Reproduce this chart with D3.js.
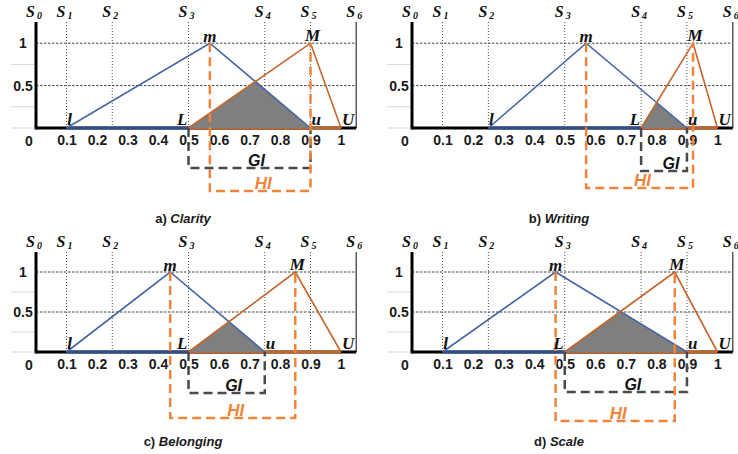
<!DOCTYPE html>
<html>
<head>
<meta charset="utf-8">
<script src="https://cdn.jsdelivr.net/npm/d3@7"></script>
<style>
  body { margin: 0; background: #fff; }
  svg { display: block; }
</style>
</head>
<body>
<svg id="chart" width="738" height="454"></svg>
<script>
// data
var captionTags = ["a)", "b)", "c)", "d)"];
var captionNames = ["Clarity", "Writing", "Belonging", "Scale"];
var lowTri = [[0.1, 0.57, 0.9], [0.25, 0.57, 0.9], [0.1, 0.44, 0.75], [0.1, 0.47, 0.9]];   // l, m, u
var highTri = [[0.5, 0.9, 1.0], [0.75, 0.92, 1.0], [0.5, 0.85, 1.0], [0.5, 0.86, 1.0]];   // L, M, U
var sVals = [0, 0.1, 0.25, 0.5, 0.75, 0.9, 1.05];
var sNames = ["0", "1", "2", "3", "4", "5", "6"];
var xTicks = [0.1, 0.2, 0.3, 0.4, 0.5, 0.6, 0.7, 0.8, 0.9, 1];
var yTicks = [0.5, 1];

// panel placement
var layout = [
  {x0: 36,  y0: 128, top: 22,  unit: 305,   capY: 223, hiY: 191, giY: 168},
  {x0: 412, y0: 128, top: 22,  unit: 305.5, capY: 223, hiY: 188, giY: 171},
  {x0: 36,  y0: 352, top: 252, unit: 305,   capY: 446, hiY: 418, giY: 393},
  {x0: 412, y0: 352, top: 252, unit: 305.5, capY: 446, hiY: 421, giY: 392}
];

var blue = "#4466a3", brown = "#c4662c", hiCol = "#f0843a", giCol = "#4a4a4a";
var sans = "Liberation Sans, Arial, sans-serif", serif = "Liberation Serif, Times New Roman, serif";
var svg = d3.select("#chart");

layout.forEach(function(p, i) {
  var x = d3.scaleLinear().domain([0, 1.05]).range([p.x0, p.x0 + p.unit * 1.05]);
  var y = d3.scaleLinear().domain([0, 1.25]).range([p.y0, p.top]);
  var g = svg.append("g");
  var lo = lowTri[i], hi = highTri[i];

  // light stubs left of the axis
  g.selectAll(".stub").data([0, 0.25, 0.75]).enter().append("line")
      .attr("x1", p.x0 - 25).attr("x2", p.x0)
      .attr("y1", function(d) { return y(d); }).attr("y2", function(d) { return y(d); })
      .attr("stroke", "#d8d8d8").attr("stroke-width", 1);

  // dotted grid
  g.selectAll(".vg").data(sVals.slice(1, 6)).enter().append("line")
      .attr("x1", function(d) { return x(d); }).attr("x2", function(d) { return x(d); })
      .attr("y1", y(1.25)).attr("y2", y(0))
      .attr("stroke", "#555").attr("stroke-width", 1).attr("stroke-dasharray", "1,2");
  g.selectAll(".hg").data(yTicks).enter().append("line")
      .attr("x1", p.x0).attr("x2", x(1.05))
      .attr("y1", function(d) { return y(d); }).attr("y2", function(d) { return y(d); })
      .attr("stroke", "#444").attr("stroke-width", 1).attr("stroke-dasharray", "2.5,1.5");
  g.append("line")
      .attr("x1", x(1.05)).attr("x2", x(1.05)).attr("y1", y(1.25)).attr("y2", y(0))
      .attr("stroke", "#5a5a5a").attr("stroke-width", 1.5);

  // axes lines
  g.append("line").attr("x1", p.x0).attr("x2", p.x0).attr("y1", y(1.25)).attr("y2", y(0) + 1.5)
      .attr("stroke", "#000").attr("stroke-width", 3);
  g.append("line").attr("x1", p.x0).attr("x2", x(1.05)).attr("y1", y(0)).attr("y2", y(0))
      .attr("stroke", "#000").attr("stroke-width", 3);

  // tick labels through d3 axes
  var xa = g.append("g").attr("transform", "translate(0," + (p.y0 + 4) + ")")
      .call(d3.axisBottom(x).tickValues(xTicks).tickSize(0).tickFormat(d3.format("")));
  var ya = g.append("g").attr("transform", "translate(" + (p.x0 - 4) + ",0)")
      .call(d3.axisLeft(y).tickValues(yTicks).tickSize(0).tickFormat(d3.format("")));
  [xa, ya].forEach(function(a) {
    a.select(".domain").remove();
    a.selectAll("text").attr("font-family", sans)
      .attr("font-size", 14).attr("font-weight", "bold").attr("fill", "#1a1a1a");
  });
  ya.selectAll("text").attr("text-anchor", "middle").attr("x", -9);
  g.append("text").attr("x", p.x0 - 7).attr("y", p.y0 + 18).attr("text-anchor", "middle")
      .attr("font-family", sans).attr("font-size", 14)
      .attr("font-weight", "bold").attr("fill", "#1a1a1a").text("0");

  // S labels
  var st = g.selectAll(".sl").data(sVals).enter().append("text")
      .attr("x", function(d) { return x(d) - 2; }).attr("y", p.top - 5)
      .attr("text-anchor", "middle")
      .attr("font-family", serif)
      .attr("font-weight", "bold").attr("font-style", "italic").attr("font-size", 16).attr("fill", "#111");
  st.append("tspan").text("S");
  st.append("tspan").attr("dx", 2).attr("dy", 2).attr("font-size", 10)
      .text(function(d, j) { return sNames[j]; });

  // bases along the baseline
  g.append("line").attr("x1", x(lo[0])).attr("x2", x(lo[2])).attr("y1", y(0)).attr("y2", y(0))
      .attr("stroke", "#2f4f8a").attr("stroke-width", 3);
  g.append("line").attr("x1", x(hi[0])).attr("x2", x(hi[2])).attr("y1", y(0)).attr("y2", y(0))
      .attr("stroke", brown).attr("stroke-width", 3);

  // overlap area
  var ix = (lo[2] * (hi[1] - hi[0]) + hi[0] * (lo[2] - lo[1])) / ((hi[1] - hi[0]) + (lo[2] - lo[1]));
  var iy = (ix - hi[0]) / (hi[1] - hi[0]);
  var line = d3.line().x(function(d) { return x(d[0]); }).y(function(d) { return y(d[1]); });
  g.append("path").attr("d", line([[hi[0], 0], [ix, iy], [lo[2], 0]]) + "Z")
      .attr("fill", "#7f7f7f").attr("stroke", "none");

  // triangles
  g.append("path").attr("d", line([[lo[0], 0], [lo[1], 1], [lo[2], 0]]))
      .attr("fill", "none").attr("stroke", blue).attr("stroke-width", 1.6);
  g.append("path").attr("d", line([[hi[0], 0], [hi[1], 1], [hi[2], 0]]))
      .attr("fill", "none").attr("stroke", brown).attr("stroke-width", 1.6);

  // GI and HI brackets
  g.append("path")
      .attr("d", "M" + x(hi[0]) + "," + y(0) + "V" + p.giY + "H" + x(lo[2]) + "V" + y(0))
      .attr("fill", "none").attr("stroke", giCol).attr("stroke-width", 2.5).attr("stroke-dasharray", "9,5");
  g.append("path")
      .attr("d", "M" + x(lo[1]) + "," + y(1) + "V" + p.hiY + "H" + x(hi[1]) + "V" + y(1))
      .attr("fill", "none").attr("stroke", hiCol).attr("stroke-width", 2.5).attr("stroke-dasharray", "9,5");

  g.append("text").attr("x", (x(hi[0]) + x(lo[2])) / 2 + 7).attr("y", p.giY - 2)
      .attr("text-anchor", "middle").attr("font-family", sans)
      .attr("font-size", 16).attr("font-weight", "bold").attr("font-style", "italic")
      .attr("fill", "#111").text("GI");
  g.append("text").attr("x", (x(lo[1]) + x(hi[1])) / 2 + 3).attr("y", p.hiY - 2)
      .attr("text-anchor", "middle").attr("font-family", sans)
      .attr("font-size", 17).attr("font-weight", "bold").attr("font-style", "italic")
      .attr("fill", hiCol).text("HI");

  // point letters
  var pts = [
    {t: "l", v: lo[0], yv: 0, a: "middle", dx: 3, dy: -3},
    {t: "m", v: lo[1], yv: 1, a: "middle", dx: 0, dy: -1},
    {t: "u", v: lo[2], yv: 0, a: "start", dx: 1, dy: -3},
    {t: "L", v: hi[0], yv: 0, a: "end", dx: -1, dy: -3},
    {t: "M", v: hi[1], yv: 1, a: "middle", dx: 2, dy: -2},
    {t: "U", v: hi[2], yv: 0, a: "start", dx: 1, dy: -3}
  ];
  g.selectAll(".pt").data(pts).enter().append("text")
      .attr("x", function(d) { return x(d.v) + d.dx; })
      .attr("y", function(d) { return y(d.yv) + d.dy; })
      .attr("text-anchor", function(d) { return d.a; })
      .attr("font-family", serif)
      .attr("font-weight", "bold").attr("font-style", "italic").attr("font-size", 17)
      .attr("fill", "#111").text(function(d) { return d.t; });

  // caption
  var cap = g.append("text").attr("x", p.x0 + 147).attr("y", p.capY).attr("text-anchor", "middle")
      .attr("font-family", sans).attr("font-size", 13)
      .attr("font-weight", "bold").attr("fill", "#1a1a1a");
  cap.append("tspan").text(captionTags[i] + " ");
  cap.append("tspan").attr("font-style", "italic").text(captionNames[i]);
});
</script>
</body>
</html>
